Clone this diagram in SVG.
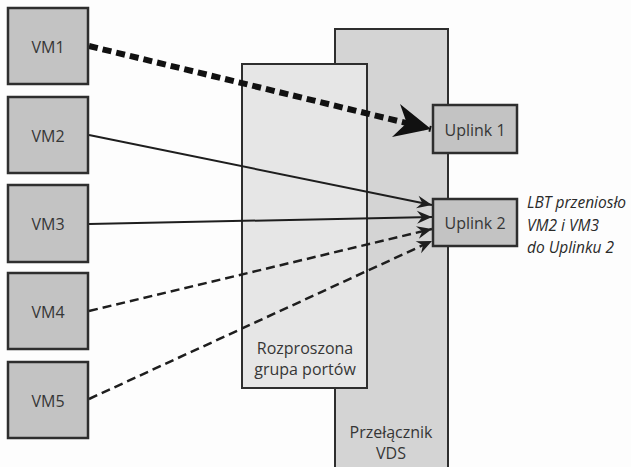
<svg xmlns="http://www.w3.org/2000/svg" width="631" height="467" viewBox="0 0 631 467">
<style>
.vm{fill:#c3c3c3;stroke:#2e2e2e;stroke-width:2.5}
.up{fill:#c3c3c3;stroke:#2e2e2e;stroke-width:2.5}
.pg{fill:#e6e6e6;stroke:#2e2e2e;stroke-width:2}
.vds{fill:#d4d4d4;stroke:#2e2e2e;stroke-width:2}
text{font-family:"Open Sans","Liberation Sans",sans-serif;font-size:16px;fill:#363636}
.lbl{text-anchor:middle}
.note{font-style:italic;font-size:15.5px;fill:#2a2a2a}
.solid{stroke:#1e1e1e;stroke-width:2;fill:none}
.dash{stroke:#1e1e1e;stroke-width:2.5;fill:none;stroke-dasharray:9 5}
.thick{stroke:#111;stroke-width:6;fill:none;stroke-dasharray:9 5}
</style>
<defs>
<marker id="big" markerUnits="userSpaceOnUse" markerWidth="44" markerHeight="44" viewBox="-40 -22 44 44" refX="0" refY="0" orient="auto" overflow="visible">
<path d="M0,0 L-36,-17 L-25,0 L-36,17 Z" fill="#111"/>
</marker>
<marker id="small" markerUnits="userSpaceOnUse" markerWidth="18" markerHeight="14" viewBox="-16 -7 18 14" refX="0" refY="0" orient="auto">
<path d="M0,0 L-15,-6.5 L-10,0 L-15,6.5 Z" fill="#1e1e1e"/>
</marker>
</defs>
<rect width="631" height="467" fill="#fdfdfd"/>
<g id="vds">
<rect class="vds" x="335" y="29" width="113" height="450"/>
<text class="lbl" x="391" y="438">Przełącznik</text>
<text class="lbl" x="391" y="459">VDS</text>
</g>
<g id="portgroup">
<rect class="pg" x="242" y="64" width="125" height="324"/>
<text class="lbl" x="305" y="354">Rozproszona</text>
<text class="lbl" x="305" y="375">grupa portów</text>
</g>
<g id="connectors">
<line class="thick" x1="89" y1="46" x2="431" y2="129" marker-end="url(#big)"/>
<line class="solid" x1="89" y1="135" x2="432" y2="205" marker-end="url(#small)"/>
<line class="solid" x1="89" y1="224" x2="432" y2="217" marker-end="url(#small)"/>
<line class="dash" x1="89" y1="311" x2="432" y2="229" marker-end="url(#small)"/>
<line class="dash" x1="89" y1="399" x2="432" y2="241" marker-end="url(#small)"/>
</g>
<g id="vm1"><rect class="vm" x="8" y="8" width="80" height="76"/><text class="lbl" x="48" y="53">VM1</text></g>
<g id="vm2"><rect class="vm" x="8" y="97" width="80" height="76"/><text class="lbl" x="48" y="142">VM2</text></g>
<g id="vm3"><rect class="vm" x="8" y="185" width="80" height="77"/><text class="lbl" x="48" y="230">VM3</text></g>
<g id="vm4"><rect class="vm" x="8" y="273" width="80" height="76"/><text class="lbl" x="48" y="318">VM4</text></g>
<g id="vm5"><rect class="vm" x="8" y="362" width="80" height="76"/><text class="lbl" x="48" y="407">VM5</text></g>
<g id="uplink1"><rect class="up" x="433" y="105" width="84" height="48"/><text class="lbl" x="475" y="136">Uplink 1</text></g>
<g id="uplink2"><rect class="up" x="433" y="199" width="84" height="47"/><text class="lbl" x="475" y="229">Uplink 2</text></g>
<g id="note">
<text class="note" x="527" y="208">LBT przeniosło</text>
<text class="note" x="527" y="231">VM2 i VM3</text>
<text class="note" x="527" y="253">do Uplinku 2</text>
</g>
</svg>
